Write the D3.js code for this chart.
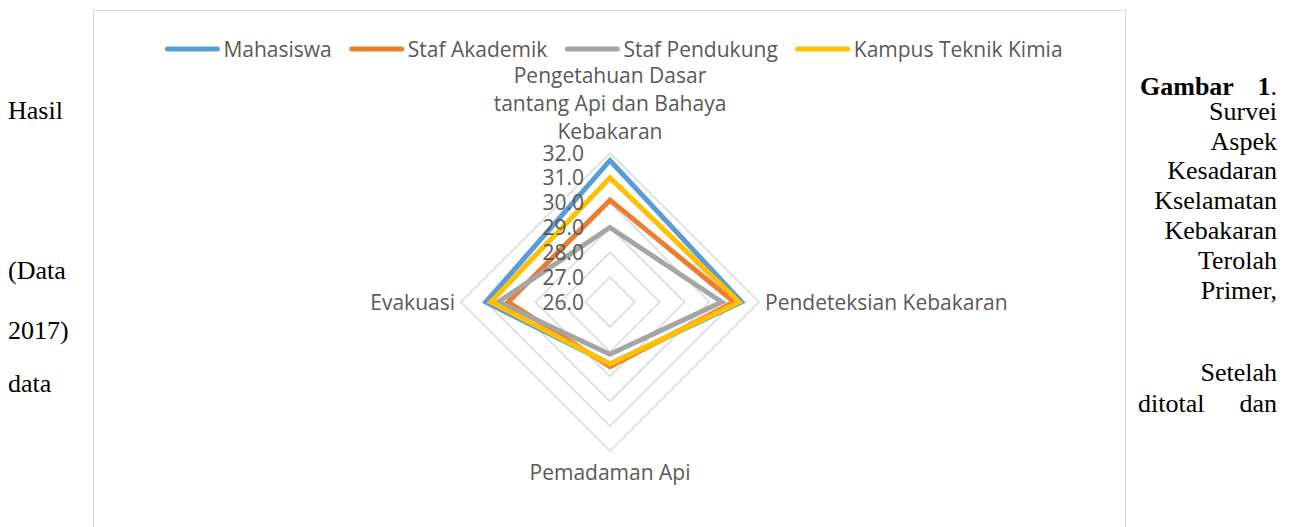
<!DOCTYPE html>
<html>
<head>
<meta charset="utf-8">
<title>Radar - Kesadaran Keselamatan Kebakaran</title>
<script src="https://d3js.org/d3.v7.min.js"></script>
<style>
    body { margin: 0; background: #fff; }
    svg { display: block; }
    .chart text { font-family: "Open Sans", sans-serif; fill: #595959; }
    .page text { font-family: "Liberation Serif", "Times New Roman", serif; fill: #000; font-size: 26px; }
</style>
</head>
<body>
<script>
// data
var axes = ["Pengetahuan Dasar tantang Api dan Bahaya Kebakaran", "Pendeteksian Kebakaran", "Pemadaman Api", "Evakuasi"];
var seriesNames = ["Mahasiswa", "Staf Akademik", "Staf Pendukung", "Kampus Teknik Kimia"];
var mahasiswa = [31.7, 31.3, 28.5, 31.0];
var stafAkademik = [30.1, 31.0, 28.6, 30.1];
var stafPendukung = [29.0, 30.5, 28.1, 30.5];
var kampus = [31.0, 31.2, 28.5, 30.8];
var ticks = [26, 27, 28, 29, 30, 31, 32];
var colors = ["#5B9BD5", "#ED7D31", "#A5A5A5", "#FFC000"];

var w = 1294, h = 527;
var cx = 610, cy = 302;

var svg = d3.select("body").append("svg")
    .attr("width", w)
    .attr("height", h);

// surrounding document text
var page = svg.append("g").attr("class", "page");
var leftWords = [["Hasil", 119], ["(Data", 279], ["2017)", 339], ["data", 392]];
page.selectAll("text.left").data(leftWords).enter().append("text")
    .attr("class", "left")
    .attr("x", 8)
    .attr("y", function(d) { return d[1]; })
    .text(function(d) { return d[0]; });

var rightWords = [["Survei", 120], ["Aspek", 150], ["Kesadaran", 179], ["Kselamatan", 209],
    ["Kebakaran", 239], ["Terolah", 269], ["Primer,", 299], ["Setelah", 381]];
page.selectAll("text.right").data(rightWords).enter().append("text")
    .attr("class", "right")
    .attr("x", 1277)
    .attr("y", function(d) { return d[1]; })
    .attr("text-anchor", "end")
    .text(function(d) { return d[0]; });

page.append("text").attr("x", 1140).attr("y", 95).attr("font-weight", "bold").text("Gambar");
var one = page.append("text").attr("x", 1277).attr("y", 95).attr("text-anchor", "end");
one.append("tspan").attr("font-weight", "bold").text("1");
one.append("tspan").text(".");

page.append("text").attr("x", 1138).attr("y", 412).text("ditotal");
page.append("text").attr("x", 1277).attr("y", 412).attr("text-anchor", "end").text("dan");

// chart frame
var chart = svg.append("g").attr("class", "chart");
chart.append("rect")
    .attr("x", 93.5).attr("y", 10.5)
    .attr("width", 1032).attr("height", 540)
    .attr("fill", "none")
    .attr("stroke", "#D9D9D9");

var r = d3.scaleLinear().domain([26, 32]).range([0, 149]);
var angle = function(i) { return i * Math.PI * 2 / axes.length; };

var radial = d3.lineRadial()
    .angle(function(d, i) { return angle(i); })
    .radius(function(d) { return r(d); })
    .curve(d3.curveLinearClosed);

var g = chart.append("g").attr("transform", "translate(" + cx + "," + cy + ")");

// grid diamonds
g.selectAll("path.grid")
    .data(ticks.slice(1))
    .enter().append("path")
    .attr("class", "grid")
    .attr("d", function(t) { return radial(axes.map(function() { return t; })); })
    .attr("fill", "none")
    .attr("stroke", "#D9D9D9")
    .attr("stroke-width", 1.5);

// series
var allSeries = [mahasiswa, stafAkademik, stafPendukung, kampus];
g.selectAll("path.series")
    .data(allSeries)
    .enter().append("path")
    .attr("class", "series")
    .attr("d", radial)
    .attr("fill", "none")
    .attr("stroke", function(d, i) { return colors[i]; })
    .attr("stroke-width", 5)
    .attr("stroke-linejoin", "miter");

// tick labels
g.selectAll("text.tick")
    .data(ticks)
    .enter().append("text")
    .attr("class", "tick")
    .attr("x", -26)
    .attr("y", function(t) { return -r(t); })
    .attr("dy", "0.36em")
    .attr("text-anchor", "end")
    .attr("font-size", 21)
    .text(function(t) { return t.toFixed(1); });

// axis labels
var topLines = ["Pengetahuan Dasar", "tantang Api dan Bahaya", "Kebakaran"];
g.append("text")
    .attr("text-anchor", "middle")
    .attr("font-size", 21)
    .selectAll("tspan")
    .data(topLines)
    .enter().append("tspan")
    .attr("x", 0)
    .attr("y", function(d, i) { return -227 + i * 28; })
    .attr("dy", "0.36em")
    .text(function(d) { return d; });

g.append("text")
    .attr("x", r(32) + 6).attr("y", 0).attr("dy", "0.36em")
    .attr("font-size", 21)
    .text(axes[1]);
g.append("text")
    .attr("x", 0).attr("y", r(32) + 21).attr("dy", "0.36em")
    .attr("text-anchor", "middle")
    .attr("font-size", 21)
    .text(axes[2]);
g.append("text")
    .attr("x", -r(32) - 6).attr("y", 0).attr("dy", "0.36em")
    .attr("text-anchor", "end")
    .attr("font-size", 21)
    .text(axes[3]);

// legend
var legend = chart.append("g");
var items = legend.selectAll("g")
    .data(seriesNames)
    .enter().append("g");
items.append("line")
    .attr("x1", 2).attr("x2", 52)
    .attr("y1", 0).attr("y2", 0)
    .attr("stroke", function(d, i) { return colors[i]; })
    .attr("stroke-width", 5)
    .attr("stroke-linecap", "round");
items.append("text")
    .attr("x", 58).attr("y", 0).attr("dy", "0.36em")
    .attr("font-size", 21)
    .text(function(d) { return d; });

var xpos = 0;
items.each(function() {
    var tw = d3.select(this).select("text").node().getComputedTextLength();
    d3.select(this).attr("transform", "translate(" + xpos + ",0)");
    xpos += 58 + tw + 18;
});
var total = xpos - 18;
legend.attr("transform", "translate(" + (614 - total / 2) + ",49)");
</script>
</body>
</html>
